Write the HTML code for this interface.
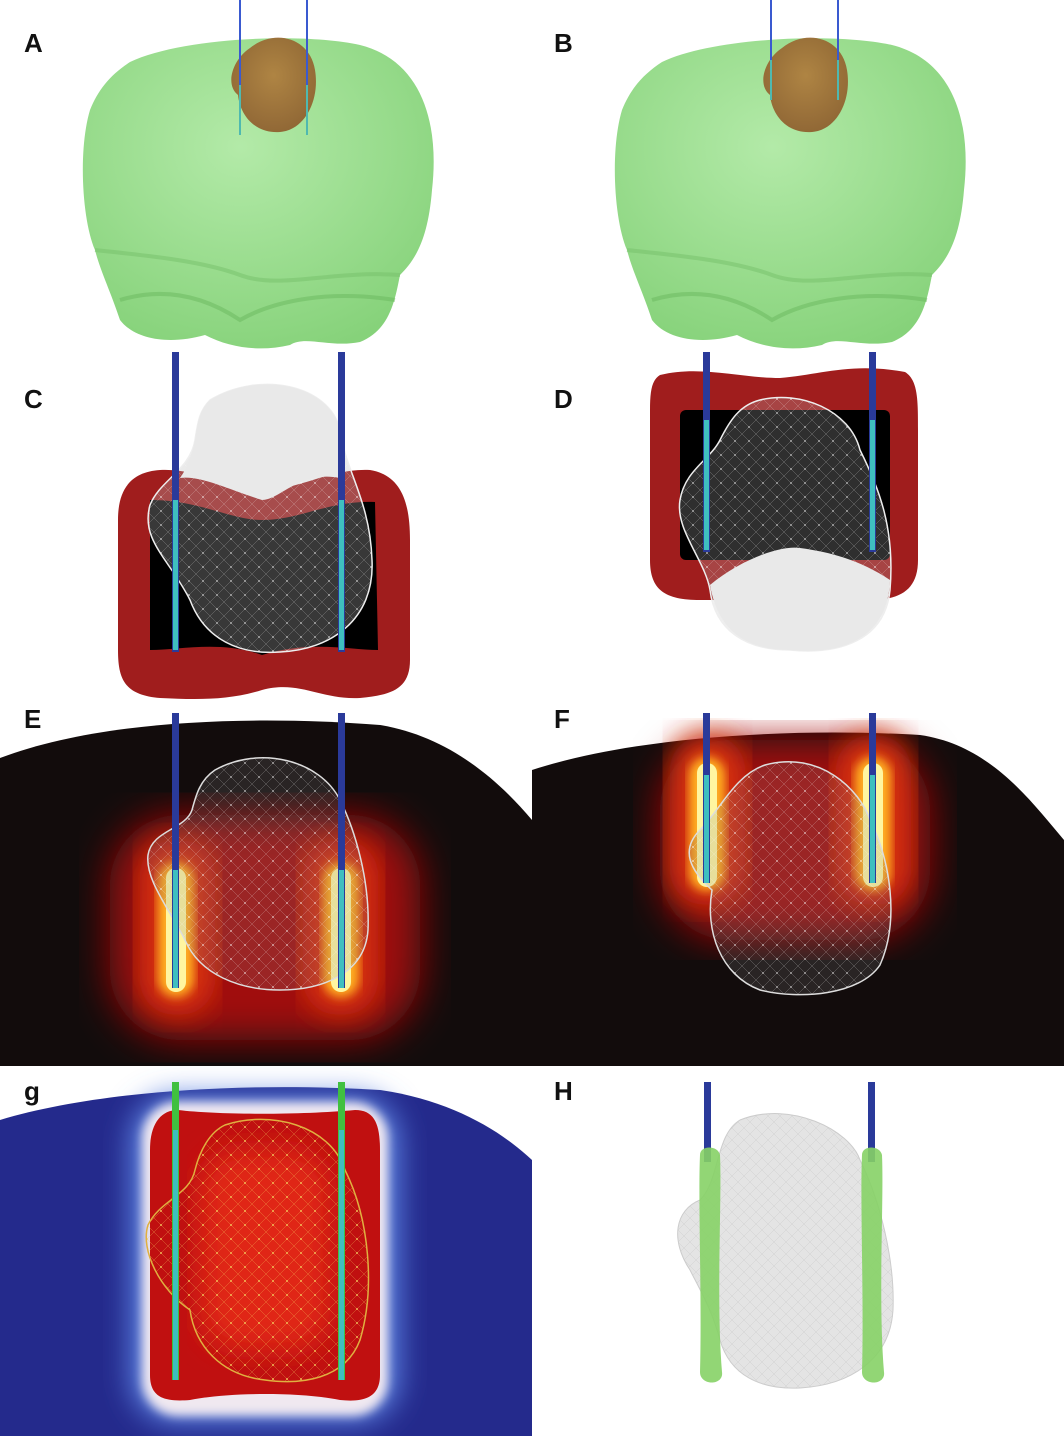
<!DOCTYPE html>
<html><head><meta charset="utf-8"><style>
html,body{margin:0;padding:0;background:#fff;}
svg{display:block;}
text{font-family:"Liberation Sans",sans-serif;font-weight:bold;font-size:26px;fill:#111;}
</style></head><body>
<svg width="1064" height="1436" viewBox="0 0 1064 1436" xmlns="http://www.w3.org/2000/svg">
<defs>
<radialGradient id="brain" cx="0.45" cy="0.35" r="0.7"><stop offset="0" stop-color="#b3eaa8"/><stop offset="1" stop-color="#86d27a"/></radialGradient>
<radialGradient id="tumor" cx="0.5" cy="0.4" r="0.6"><stop offset="0" stop-color="#b07a3a"/><stop offset="1" stop-color="#8e5a2a"/></radialGradient>
<filter id="b8"><feGaussianBlur stdDeviation="8"/></filter>
<filter id="b14"><feGaussianBlur stdDeviation="14"/></filter>
<filter id="b20"><feGaussianBlur stdDeviation="20"/></filter>
<filter id="b5"><feGaussianBlur stdDeviation="5"/></filter>
<pattern id="mesh" width="14" height="14" patternUnits="userSpaceOnUse"><path d="M0 0L14 14M14 0L0 14" stroke="#fff" stroke-width="0.5" opacity="0.35"/><circle cx="7" cy="7" r="0.9" fill="#fff" opacity="0.6"/></pattern>
<pattern id="meshY" width="14" height="14" patternUnits="userSpaceOnUse"><path d="M0 0L14 14M14 0L0 14" stroke="#f5d060" stroke-width="0.5" opacity="0.5"/><circle cx="7" cy="7" r="0.9" fill="#f5d060"/></pattern>
<pattern id="meshG" width="12" height="12" patternUnits="userSpaceOnUse"><path d="M0 0L12 12M12 0L0 12" stroke="#bbb" stroke-width="0.5" opacity="0.5"/></pattern>
<g id="brainShape">
<path d="M130 62 C180 38 300 32 360 45 C420 60 440 120 432 190 C428 240 415 260 400 275 C395 300 390 330 360 342 C330 348 305 335 290 345 C260 352 230 348 205 335 C170 345 135 340 120 320 C110 290 100 270 95 250 C82 220 78 150 90 110 C98 90 110 75 130 62Z" fill="url(#brain)"/>
<path d="M95 250 C140 255 200 260 240 275 C280 290 330 270 400 275" stroke="#76c06a" stroke-width="4" fill="none" opacity="0.5"/>
<path d="M120 300 C170 285 210 300 240 320 C275 300 330 290 395 300" stroke="#6ab85e" stroke-width="4" fill="none" opacity="0.5"/>
</g>
</defs>

<!-- A -->
<use href="#brainShape"/>
<path d="M250 48 C275 28 310 38 315 70 C320 100 305 130 280 132 C255 134 240 115 238 95 C225 85 232 60 250 48Z" fill="url(#tumor)" opacity="0.9"/>
<rect x="239" y="0" width="2" height="135" fill="#3a5ad0"/><rect x="239" y="85" width="2" height="50" fill="#4fb9b0"/>
<rect x="306" y="0" width="2" height="135" fill="#3a5ad0"/><rect x="306" y="85" width="2" height="50" fill="#4fb9b0"/>
<text x="24" y="52">A</text>
<!-- B -->
<use href="#brainShape" x="532"/>
<path d="M782 48 C807 28 842 38 847 70 C852 100 837 130 812 132 C787 134 772 115 770 95 C757 85 764 60 782 48Z" fill="url(#tumor)" opacity="0.9"/>
<rect x="770" y="0" width="2" height="100" fill="#3a5ad0"/><rect x="770" y="60" width="2" height="40" fill="#4fb9b0"/>
<rect x="837" y="0" width="2" height="100" fill="#3a5ad0"/><rect x="837" y="60" width="2" height="40" fill="#4fb9b0"/>
<text x="554" y="52">B</text>

<!-- C -->
<path d="M160 470 C200 468 230 490 262 490 C300 490 330 468 370 470 C400 475 410 500 410 540 L410 660 C410 690 390 695 360 698 C320 700 300 680 262 690 C230 700 200 700 160 698 C125 695 118 680 118 650 L118 520 C118 490 130 472 160 470Z" fill="#a01d1d"/>
<path d="M150 500 C200 500 230 520 262 520 C300 520 330 500 375 502 L378 650 C350 650 310 640 262 655 C220 640 180 650 150 650Z" fill="#000"/>
<path d="M210 400 C260 370 330 385 340 430 C345 470 370 500 372 560 C375 620 330 650 280 652 C240 655 205 640 190 600 C170 560 140 540 150 505 C160 480 190 470 195 440 C198 420 200 410 210 400Z" fill="#bbb" opacity="0.3"/>
<path d="M210 400 C260 370 330 385 340 430 C345 470 370 500 372 560 C375 620 330 650 280 652 C240 655 205 640 190 600 C170 560 140 540 150 505 C160 480 190 470 195 440 C198 420 200 410 210 400Z" fill="url(#mesh)" stroke="#eee" stroke-width="1.5"/>
<path d="M210 400 C260 370 330 385 340 430 C342 455 345 470 340 478 C300 470 280 500 262 500 C230 490 200 475 180 478 C190 465 195 440 195 440 C198 420 200 410 210 400Z" fill="#e9e9e9"/>
<rect x="172" y="352" width="7" height="300" fill="#2a3a9a"/><rect x="173" y="500" width="5" height="150" fill="#3fbfbf"/>
<rect x="338" y="352" width="7" height="300" fill="#2a3a9a"/><rect x="339" y="500" width="5" height="150" fill="#3fbfbf"/>
<text x="24" y="408">C</text>

<!-- D -->
<path d="M660 375 C700 365 740 378 780 378 C820 375 850 362 905 372 C918 380 918 400 918 430 L918 560 C918 590 900 600 870 600 L700 600 C665 600 650 590 650 560 L650 410 C650 390 652 380 660 375Z" fill="#a01d1d"/>
<rect x="680" y="410" width="210" height="150" rx="6" fill="#000"/>
<path d="M760 400 C800 390 850 410 860 450 C880 490 895 530 890 590 C885 640 840 655 790 650 C745 650 715 630 710 590 C705 560 675 530 680 500 C685 470 710 460 720 440 C730 420 740 405 760 400Z" fill="#bbb" opacity="0.25"/>
<path d="M760 400 C800 390 850 410 860 450 C880 490 895 530 890 590 C885 640 840 655 790 650 C745 650 715 630 710 590 C705 560 675 530 680 500 C685 470 710 460 720 440 C730 420 740 405 760 400Z" fill="url(#mesh)" stroke="#eee" stroke-width="1.5"/>
<path d="M710 585 C740 560 780 545 800 548 C830 552 860 560 890 580 C888 640 840 655 790 650 C745 650 718 630 710 585Z" fill="#e9e9e9"/>
<rect x="703" y="352" width="7" height="200" fill="#2a3a9a"/><rect x="704" y="420" width="5" height="130" fill="#3fbfbf"/>
<rect x="869" y="352" width="7" height="200" fill="#2a3a9a"/><rect x="870" y="420" width="5" height="130" fill="#3fbfbf"/>
<text x="554" y="408">D</text>

<!-- E -->
<path d="M0 758 C100 720 250 715 380 725 C440 735 490 770 532 820 L532 1066 L0 1066Z" fill="#120c0c"/>
<rect x="110" y="815" width="310" height="225" rx="70" fill="#a01010" filter="url(#b20)"/>
<rect x="140" y="840" width="75" height="175" rx="35" fill="#d83010" filter="url(#b14)"/>
<rect x="303" y="840" width="75" height="175" rx="35" fill="#d83010" filter="url(#b14)"/>
<rect x="158" y="862" width="36" height="135" rx="18" fill="#ffb020" filter="url(#b5)"/>
<rect x="323" y="862" width="36" height="135" rx="18" fill="#ffb020" filter="url(#b5)"/>
<rect x="166" y="868" width="20" height="124" rx="10" fill="#fff6a0"/>
<rect x="331" y="868" width="20" height="124" rx="10" fill="#fff6a0"/>
<path d="M215 770 C260 745 320 760 340 800 C355 830 370 880 368 930 C365 975 320 990 280 990 C240 990 200 975 185 940 C170 910 145 880 148 855 C152 830 185 830 192 810 C196 795 200 780 215 770Z" fill="#888" opacity="0.2"/>
<path d="M215 770 C260 745 320 760 340 800 C355 830 370 880 368 930 C365 975 320 990 280 990 C240 990 200 975 185 940 C170 910 145 880 148 855 C152 830 185 830 192 810 C196 795 200 780 215 770Z" fill="url(#mesh)" stroke="#ddd" stroke-width="1.5"/>
<rect x="172" y="713" width="7" height="275" fill="#2a3a9a"/><rect x="173" y="870" width="5" height="118" fill="#3fbfbf"/>
<rect x="338" y="713" width="7" height="275" fill="#2a3a9a"/><rect x="339" y="870" width="5" height="118" fill="#3fbfbf"/>
<text x="24" y="728">E</text>

<!-- F -->
<path d="M532 770 C640 735 800 728 920 735 C990 745 1030 800 1064 840 L1064 1066 L532 1066Z" fill="#120c0c"/>
<rect x="660" y="740" width="270" height="200" rx="70" fill="#a01010" filter="url(#b20)"/>
<rect x="670" y="735" width="75" height="170" rx="35" fill="#d83010" filter="url(#b14)"/>
<rect x="836" y="735" width="75" height="170" rx="35" fill="#d83010" filter="url(#b14)"/>
<rect x="689" y="757" width="36" height="134" rx="18" fill="#ffb020" filter="url(#b5)"/>
<rect x="855" y="757" width="36" height="134" rx="18" fill="#ffb020" filter="url(#b5)"/>
<rect x="697" y="763" width="20" height="124" rx="10" fill="#fff6a0"/>
<rect x="863" y="763" width="20" height="124" rx="10" fill="#fff6a0"/>
<path d="M765 765 C820 750 860 790 870 820 C890 860 900 920 880 965 C860 995 800 1000 760 990 C720 975 705 930 712 890 C690 870 680 850 700 830 C720 810 735 775 765 765Z" fill="#888" opacity="0.2"/>
<path d="M765 765 C820 750 860 790 870 820 C890 860 900 920 880 965 C860 995 800 1000 760 990 C720 975 705 930 712 890 C690 870 680 850 700 830 C720 810 735 775 765 765Z" fill="url(#mesh)" stroke="#ddd" stroke-width="1.5"/>
<rect x="703" y="713" width="7" height="170" fill="#2a3a9a"/><rect x="704" y="775" width="5" height="108" fill="#3fbfbf"/>
<rect x="869" y="713" width="7" height="170" fill="#2a3a9a"/><rect x="870" y="775" width="5" height="108" fill="#3fbfbf"/>
<text x="554" y="728">F</text>

<!-- G -->
<path d="M0 1120 C100 1090 250 1082 380 1090 C450 1100 500 1130 532 1160 L532 1436 L0 1436Z" fill="#242a8c"/>
<rect x="130" y="1095" width="270" height="328" rx="45" fill="#5a80e0" filter="url(#b14)"/>
<rect x="142" y="1102" width="246" height="314" rx="36" fill="#f0e8f0" filter="url(#b5)"/>
<path d="M178 1110 C220 1115 300 1115 355 1110 C375 1110 380 1125 380 1150 L380 1375 C380 1400 360 1402 340 1400 C300 1392 230 1392 190 1400 C165 1402 150 1398 150 1375 L150 1150 C150 1125 160 1110 178 1110Z" fill="#c01010"/>
<rect x="200" y="1150" width="130" height="200" rx="40" fill="#e02818" filter="url(#b14)"/>
<path d="M225 1125 C270 1110 330 1125 345 1170 C370 1220 375 1290 360 1340 C345 1380 300 1385 265 1380 C220 1375 195 1345 190 1310 C160 1290 140 1250 148 1225 C160 1200 190 1195 195 1170 C200 1150 210 1132 225 1125Z" fill="url(#meshY)" stroke="#e0b040" stroke-width="1.5"/>
<rect x="172" y="1082" width="7" height="298" fill="#40c040"/><rect x="173" y="1130" width="5" height="250" fill="#3fbfbf"/>
<rect x="338" y="1082" width="7" height="298" fill="#40c040"/><rect x="339" y="1130" width="5" height="250" fill="#3fbfbf"/>
<text x="24" y="1100">g</text>

<!-- H -->
<path d="M740 1120 C790 1100 850 1130 860 1160 C880 1200 895 1260 893 1310 C890 1360 850 1385 800 1388 C760 1390 730 1375 720 1340 C712 1310 700 1290 690 1270 C670 1240 675 1210 700 1200 C720 1180 715 1135 740 1120Z" fill="#e4e4e4"/>
<path d="M740 1120 C790 1100 850 1130 860 1160 C880 1200 895 1260 893 1310 C890 1360 850 1385 800 1388 C760 1390 730 1375 720 1340 C712 1310 700 1290 690 1270 C670 1240 675 1210 700 1200 C720 1180 715 1135 740 1120Z" fill="url(#meshG)" stroke="#ccc"/>
<rect x="704" y="1082" width="7" height="80" fill="#2a3a9a"/>
<rect x="868" y="1082" width="7" height="80" fill="#2a3a9a"/>
<path d="M700 1155 C700 1145 718 1145 720 1155 C722 1200 716 1300 722 1372 C724 1386 700 1386 700 1372 C702 1300 698 1200 700 1155Z" fill="#86d266" opacity="0.9"/>
<path d="M862 1155 C862 1145 880 1145 882 1155 C884 1200 878 1300 884 1372 C886 1386 862 1386 862 1372 C864 1300 860 1200 862 1155Z" fill="#86d266" opacity="0.9"/>
<text x="554" y="1100">H</text>
</svg>
</body></html>
